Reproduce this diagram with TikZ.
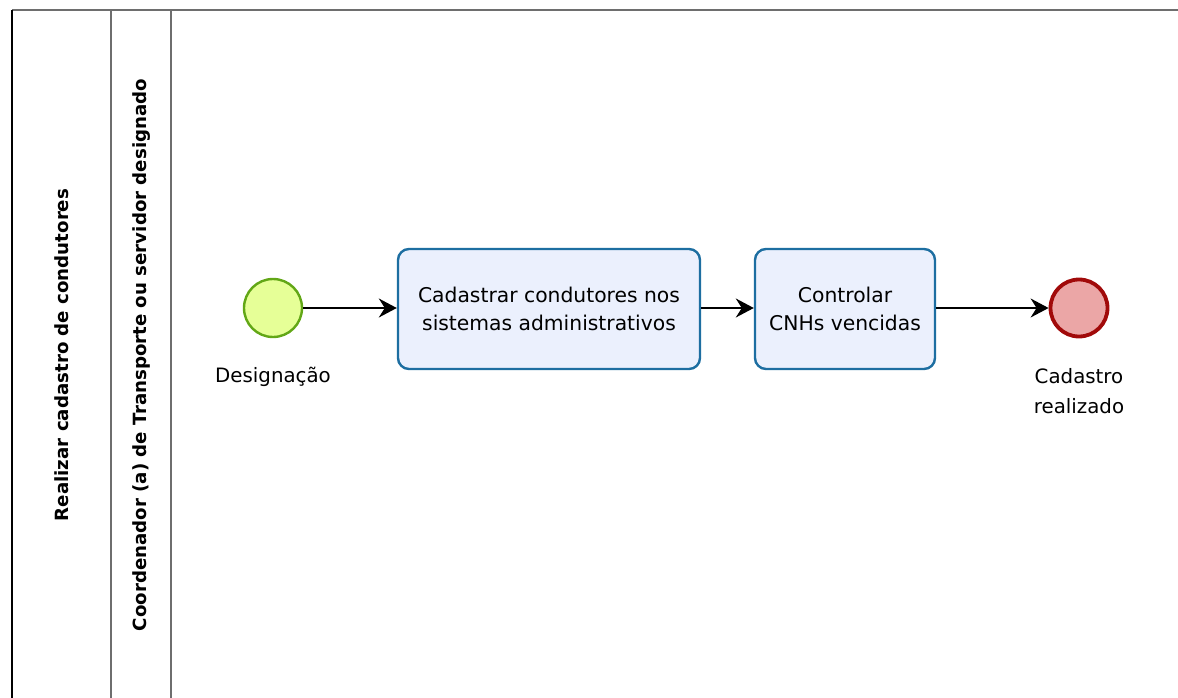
\documentclass[tikz,border=0pt]{standalone}
\usepackage{fontspec}
\setmainfont{DejaVu Sans}
\usetikzlibrary{arrows.meta}
\definecolor{startfill}{HTML}{E6FF97}
\definecolor{startline}{HTML}{62A716}
\definecolor{taskfill}{HTML}{EBF0FD}
\definecolor{taskline}{HTML}{1D6EA1}
\definecolor{endfill}{HTML}{EBA6A6}
\definecolor{endline}{HTML}{A10A0A}
\definecolor{laneline}{HTML}{6E6E6E}
\begin{document}
\begin{tikzpicture}[x=1pt,y=-1pt,
  lbl/.style={font=\fontsize{19.8}{30}\selectfont, align=center, text=black},
  lanetitle/.style={font=\bfseries\fontsize{18.2}{22}\selectfont, rotate=90},
  startev/.style={circle, draw=startline, line width=2.4pt, fill=startfill, minimum size=58pt, inner sep=0pt},
  endev/.style={circle, draw=endline, line width=3.8pt, fill=endfill, minimum size=57pt, inner sep=0pt},
  taskbox/.style={rectangle, rounded corners=11pt, draw=taskline, line width=2.4pt, fill=taskfill,
    font=\fontsize{20.3}{28}\selectfont, align=center},
  flow/.style={draw=black, line width=1.5pt, -{Stealth[length=18pt,width=19pt,inset=6pt]}}]
\useasboundingbox (0,0) rectangle (1178,698);
% pool and lanes
\draw[laneline, line width=1.5pt] (1178,10) -- (12,10);
\draw[black, line width=1.5pt] (12,10) -- (12,698);
\draw[laneline, line width=1.5pt] (111,10) -- (111,698);
\draw[laneline, line width=1.5pt] (171,10) -- (171,698);
\node[lanetitle] (pooltitle) at (62,355) {Realizar cadastro de condutores};
\node[lanetitle] (lanetitle) at (142,355) {Coordenador (a) de Transporte ou servidor designado};
% flow elements
\node[startev] (start) at (273,308) {};
\node[lbl] (startlbl) at (273,377) {Designação};
\node[taskbox, minimum width=302pt, minimum height=120pt] (t1) at (549,309) {Cadastrar condutores nos\\sistemas administrativos};
\node[taskbox, minimum width=180pt, minimum height=120pt] (t2) at (845,309) {Controlar\\CNHs vencidas};
\node[endev] (end) at (1079,308) {};
\node[lbl] (endlbl) at (1079,391) {Cadastro\\realizado};
% sequence flows
\draw[flow] (start) -- (t1.west |- start);
\draw[flow] (t1.east |- start) -- (t2.west |- start);
\draw[flow] (t2.east |- start) -- (end);
\end{tikzpicture}
\end{document}
